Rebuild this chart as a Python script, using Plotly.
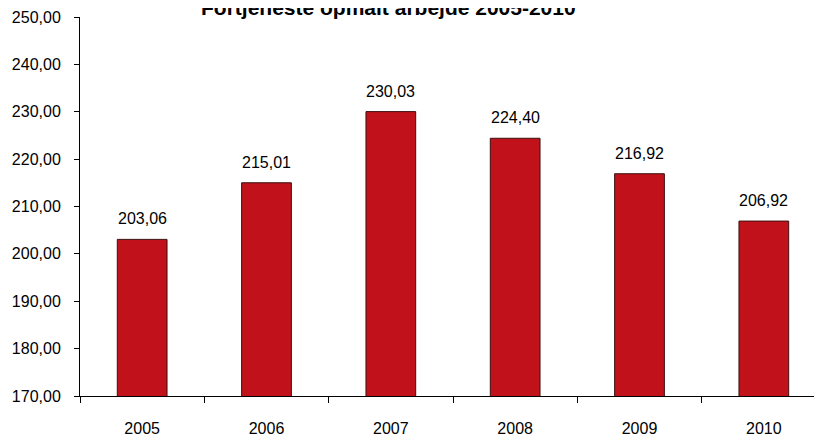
import plotly.graph_objects as go

years = ["2005", "2006", "2007", "2008", "2009", "2010"]
values = [203.06, 215.01, 230.03, 224.40, 216.92, 206.92]
title_text = "Fortjeneste opmalt arbejde 2005-2010"

FONT = "Liberation Sans, Arial, sans-serif"

fig = go.Figure()
fig.add_trace(go.Bar(
    x=years, y=values,
    marker=dict(color="#C1121C", line=dict(color="#3a1010", width=1)),
    width=0.4,
))

for i, (yr, v) in enumerate(zip(years, values)):
    fig.add_annotation(
        x=i, y=v, xref="x", yref="y", text=f"{v:.2f}".replace(".", ","),
        showarrow=False, yanchor="bottom", yshift=10,
        font=dict(family=FONT, size=16, color="#000"),
    )

fig.add_annotation(
    xref="paper", yref="paper", x=0.414, y=1.0, yanchor="bottom", yshift=-4,
    text=f"<b>{title_text}</b>", showarrow=False,
    font=dict(family=FONT, size=21, color="#000"),
)

fig.update_layout(
    width=822, height=436,
    margin=dict(l=72, r=4, t=9, b=48, autoexpand=False),
    paper_bgcolor="white", plot_bgcolor="white",
    separators=",.",
    showlegend=False,
    font=dict(family=FONT, size=16, color="#000"),
)
fig.update_xaxes(
    type="category", range=[-0.5, 5.5], automargin=False,
    showline=True, linecolor="#000", linewidth=1,
    ticks="outside", tickson="boundaries", ticklen=6, tickcolor="#000",
    ticklabelstandoff=18,
    showgrid=False, tickfont=dict(size=16, family=FONT),
)
fig.update_yaxes(
    range=[170, 250], dtick=10, tickformat=".2f", automargin=False,
    showline=True, linecolor="#000", linewidth=1,
    ticks="outside", ticklen=5, tickcolor="#000",
    ticklabelstandoff=10,
    showgrid=False, zeroline=False, tickfont=dict(size=16, family=FONT),
)

fig.write_html("out.html")
